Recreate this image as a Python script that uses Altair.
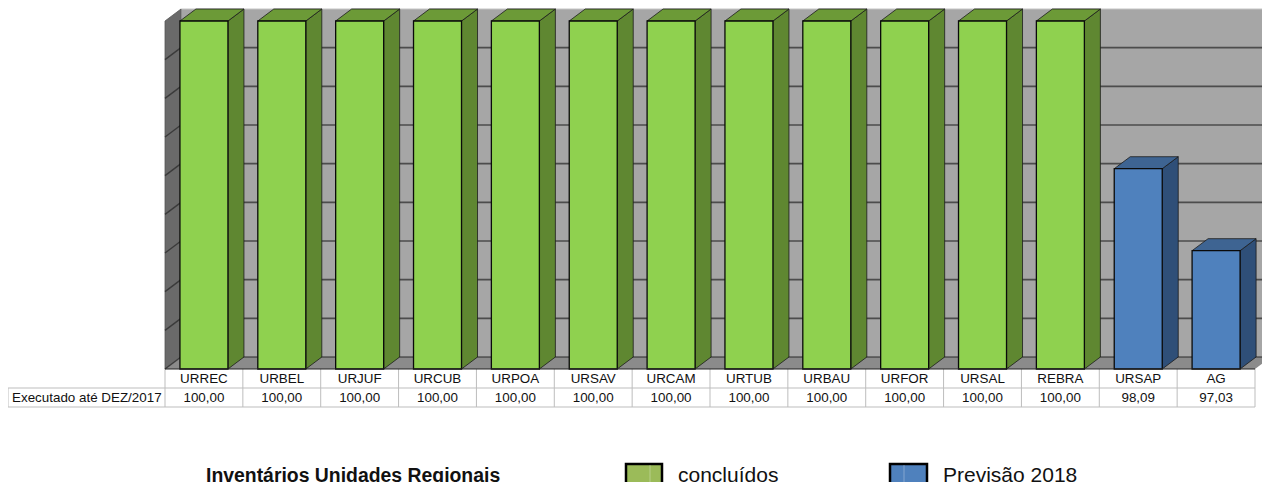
import altair as alt
import pandas as pd

categories = ["URREC","URBEL","URJUF","URCUB","URPOA","URSAV","URCAM","URTUB","URBAU","URFOR","URSAL","REBRA","URSAP","AG"]
values = [100,100,100,100,100,100,100,100,100,100,100,100,98.09,97.03]
labels = ["100,00"]*12 + ["98,09","97,03"]
series = ["concluidos"]*12 + ["previsao"]*2
ticks = [95.5,96,96.5,97,97.5,98,98.5,99,99.5,100]

FONT = "Liberation Sans"
W, H = 1090, 348
Y0, Y1 = 95.5, 100
dx = 16 / (W / 14)
dy = 12 / (H / (Y1 - Y0))
pad_l = 0.192      # gap from slot edge to bar
bar_w = 48 / (W / 14)

xs = alt.Scale(domain=[0, 14], nice=False, zero=False)
ys = alt.Scale(domain=[Y0, Y1], nice=False, zero=False)
X = lambda f: alt.X(f, type="quantitative", scale=xs, axis=None, stack=None)
Y = lambda f: alt.Y(f, type="quantitative", scale=ys, axis=None, stack=None)

rows = [dict(i=i, cat=c, v=v, lab=l, s=s,
             xl=i + pad_l, xr=i + pad_l + bar_w, mid=i + 0.5, base=Y0)
        for i, (c, v, l, s) in enumerate(zip(categories, values, labels, series))]
bars = pd.DataFrame(rows)

side, top = [], []
for r in rows:
    for t in (0, 1):
        side.append(dict(i=r["i"], s=r["s"], x=r["xr"] + t * dx, y=r["v"] + t * dy, y2=r["base"] + t * dy))
        top.append(dict(i=r["i"], s=r["s"], x=r["xl"] + t * dx, x2=r["xr"] + t * dx, y=r["v"] + t * dy))
side = pd.DataFrame(side)
top = pd.DataFrame(top)

def col(range_):
    return alt.Color("s:N", scale=alt.Scale(domain=["concluidos", "previsao"], range=range_), legend=None)

# walls
axis_layer = alt.Chart(pd.DataFrame({"t": ticks})).mark_tick(opacity=0).encode(
    y=alt.Y("t:Q", scale=ys, axis=alt.Axis(
        values=ticks, title=None, domain=False, grid=False, tickSize=4, tickColor="#9a9a9a",
        labelFont=FONT, labelFontSize=13.4, labelColor="#111111", labelPadding=11,
        labelExpr="replace(format(datum.value,'.2f'),'.',',')")),
)
back = alt.Chart(pd.DataFrame({"a": [dx], "b": [14 + dx], "c": [Y0 + dy], "d": [Y1 + dy]})).mark_rect(
    fill="#a6a6a6", stroke="#c4c4c4", strokeWidth=1).encode(x=X("a"), x2="b", y=Y("c"), y2="d")
left = alt.Chart(pd.DataFrame({"x": [0, dx], "y": [Y0, Y0 + dy], "y2": [Y1, Y1 + dy]})).mark_area(
    fill="#6a6a6a", stroke="#555555", strokeWidth=0.8).encode(x=X("x"), y=Y("y"), y2="y2")
floor = alt.Chart(pd.DataFrame({"x": [0, dx], "x2": [14, 14 + dx], "y": [Y0, Y0 + dy]})).mark_area(
    orient="horizontal", fill="#8b8b8b").encode(x=X("x"), x2="x2", y=Y("y"))

grid = pd.DataFrame({"t": ticks[:-1]})
grid["t2"] = grid.t + dy
grid["a"] = 0.0
grid["b"] = dx
grid["c"] = 14 + dx
back_grid = alt.Chart(grid).mark_rule(color="#3c3c3c", strokeWidth=1.6, opacity=0.85).encode(
    x=X("b"), x2="c", y=Y("t2"))
left_grid = alt.Chart(grid).mark_rule(color="#333333", strokeWidth=1.4, opacity=0.85).encode(
    x=X("a"), x2="b", y=Y("t"), y2="t2")

# 3D bars
side_l = alt.Chart(side).mark_area(stroke="#1c1c1c", strokeWidth=0.8).encode(
    x=X("x"), y=Y("y"), y2="y2", detail="i:N", color=col(["#5f8731", "#2f4f78"]))
top_l = alt.Chart(top).mark_area(orient="horizontal", stroke="#1c1c1c", strokeWidth=0.8).encode(
    x=X("x"), x2="x2", y=Y("y"), detail="i:N", color=col(["#6c9a37", "#3e6492"]))
front = alt.Chart(bars).mark_rect(stroke="#0a0a0a", strokeWidth=1.3).encode(
    x=X("xl"), x2="xr", y=Y("base"), y2="v", color=col(["#8fd14f", "#4f81bd"]))

# data table
edges = pd.DataFrame({"i": list(range(15))})
tbl_v = alt.Chart(edges).mark_rule(color="#bdbdbd", strokeWidth=1).encode(
    x=X("i"), y=alt.value(H), y2=alt.value(H + 38))
hl = pd.DataFrame({"a": [0], "b": [14]})
tbl_h1 = alt.Chart(hl).mark_rule(color="#bdbdbd", strokeWidth=1).encode(x=X("a"), x2="b", y=alt.value(H + 19))
tbl_h2 = alt.Chart(hl).mark_rule(color="#bdbdbd", strokeWidth=1).encode(x=X("a"), x2="b", y=alt.value(H + 38))
axis_line = alt.Chart(hl).mark_rule(color="#222222", strokeWidth=1.2).encode(x=X("a"), x2="b", y=alt.value(H))
stub = alt.Chart(pd.DataFrame({"k": [0]}))
stub_top = stub.mark_rule(color="#bdbdbd").encode(x=alt.value(-157), x2=alt.value(0), y=alt.value(H + 19))
stub_bot = stub.mark_rule(color="#bdbdbd").encode(x=alt.value(-157), x2=alt.value(0), y=alt.value(H + 38))
stub_l = stub.mark_rule(color="#bdbdbd").encode(x=alt.value(-157), y=alt.value(H + 19), y2=alt.value(H + 38))

def txt(field, row_y):
    return alt.Chart(bars).mark_text(font=FONT, fontSize=13.4, color="#111111", baseline="middle").encode(
        x=X("mid"), y=alt.value(row_y), text=field + ":N")

cat_text = txt("cat", H + 10)
val_text = txt("lab", H + 29)

def label(s, px, py, size, bold=False, align="left"):
    return alt.Chart(pd.DataFrame({"t": [s]})).mark_text(
        font=FONT, fontSize=size, fontWeight="bold" if bold else "normal", color="#111111",
        align=align, baseline="middle").encode(x=alt.value(px), y=alt.value(py), text="t:N")

OX, OY = 165, 21
row_label = label("Executado até DEZ/2017", 12 - OX, H + 29, 13.4)
leg_title = label("Inventários Unidades Regionais", 206 - OX, 476 - OY, 19.4, bold=True)
leg_a = label("concluídos", 678 - OX, 476 - OY, 21)
leg_b = label("Previsão 2018", 943 - OX, 476 - OY, 21)

def swatch(x0, x1, xm, fill):
    d = alt.Chart(pd.DataFrame({"k": [0]}))
    r = d.mark_rect(fill=fill, stroke="#000000", strokeWidth=2.5).encode(
        x=alt.value(x0 - OX), x2=alt.value(x1 - OX), y=alt.value(464 - OY), y2=alt.value(488 - OY))
    m = d.mark_rule(color="#ffffff", opacity=0.3).encode(
        x=alt.value(xm - OX), y=alt.value(465 - OY), y2=alt.value(487 - OY))
    return r + m

chart = alt.layer(
    axis_layer, back, left, floor, back_grid, left_grid,
    side_l, top_l, front,
    tbl_v, tbl_h1, tbl_h2, axis_line, stub_top, stub_bot, stub_l,
    cat_text, val_text, row_label, leg_title, leg_a, leg_b,
    swatch(626, 662, 650, "#9bbb59"), swatch(890, 927, 904, "#4f81bd"),
).resolve_scale(color="independent").properties(
    width=W, height=H,
    padding={"left": 157, "top": 13, "right": 7, "bottom": 113},
    autosize=alt.AutoSizeParams(type="none"),
    background="white",
).configure_view(stroke=None)

chart.save("out.html", embed_options={"renderer": "svg", "actions": False})
